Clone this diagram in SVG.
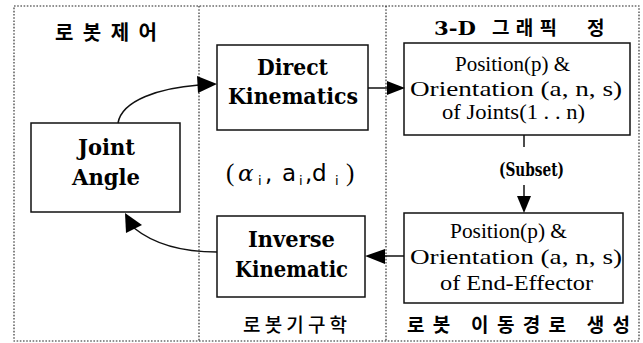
<svg xmlns="http://www.w3.org/2000/svg" width="643" height="343" viewBox="0 0 643 343">
<style>
.frame{fill:none;stroke:#222;stroke-width:1.1;stroke-dasharray:1.6 1.6}
.box{fill:#fff;stroke:#111;stroke-width:1.5}
.con{fill:none;stroke:#111;stroke-width:1.5}
.head{fill:#000}
.bk{font-family:"DejaVu Serif","Liberation Serif",serif;font-weight:bold;font-size:22px;fill:#000}
.bk2{font-family:"DejaVu Serif","Liberation Serif",serif;font-weight:bold;font-size:18px;fill:#000}
.bk3{font-family:"DejaVu Serif","Liberation Serif",serif;font-weight:bold;font-size:19px;fill:#000}
.rg{font-family:"Liberation Serif","DejaVu Serif",serif;font-size:22px;fill:#000}
.par{font-family:"Liberation Serif","DejaVu Serif",serif;font-size:25px;fill:#000}
.alpha{font-family:"DejaVu Serif","Liberation Serif",serif;font-style:italic;font-size:23px;fill:#000}
.kr{font-family:"Noto Sans CJK KR","Noto Sans",sans-serif;font-weight:bold;font-size:20px;fill:#000}
.kr3{font-family:"Noto Sans CJK KR","Noto Sans",sans-serif;font-weight:bold;font-size:19px;fill:#000}
.kr2{font-family:"Noto Sans CJK KR","Noto Sans",sans-serif;font-weight:500;font-size:19px;fill:#000}
.sub{font-family:"DejaVu Sans",sans-serif;font-size:13px;fill:#000}
.eq{font-family:"DejaVu Sans",sans-serif;font-size:23px;fill:#000}
</style>
<rect width="643" height="343" fill="#fff"/>
<g id="frame">
<rect class="frame" x="14" y="6" width="625" height="335"/>
<line class="frame" x1="199" y1="6" x2="199" y2="341"/>
<line class="frame" x1="386" y1="6" x2="386" y2="341"/>
</g>
<g id="labels">
<text class="kr" x="55" y="40" textLength="102" lengthAdjust="spacing">로 봇 제 어</text>
<text class="bk3" x="434" y="35" textLength="42" lengthAdjust="spacingAndGlyphs">3-D</text>
<text class="kr3" x="492" y="35" textLength="65" lengthAdjust="spacing">그래픽</text>
<text class="kr3" x="587" y="35">정</text>
<text class="kr2" x="243" y="332" textLength="104" lengthAdjust="spacing">로봇기구학</text>
<text class="kr3" x="407" y="332" textLength="223" lengthAdjust="spacing">로봇 이동경로 생성</text>
</g>
<g id="joint-angle">
<rect class="box" x="31" y="123" width="149" height="89"/>
<text class="bk" x="78" y="155" textLength="57" lengthAdjust="spacingAndGlyphs">Joint</text>
<text class="bk" x="72" y="185" textLength="68" lengthAdjust="spacingAndGlyphs">Angle</text>
</g>
<g id="direct-kinematics">
<rect class="box" x="217" y="45" width="151" height="85"/>
<text class="bk" x="257" y="75" textLength="71" lengthAdjust="spacingAndGlyphs">Direct</text>
<text class="bk" x="228" y="104" textLength="130" lengthAdjust="spacingAndGlyphs">Kinematics</text>
</g>
<g id="inverse-kinematic">
<rect class="box" x="217" y="216" width="148" height="81"/>
<text class="bk" x="248" y="247" textLength="87" lengthAdjust="spacingAndGlyphs">Inverse</text>
<text class="bk" x="235" y="277" textLength="113" lengthAdjust="spacingAndGlyphs">Kinematic</text>
</g>
<g id="joints-pose">
<rect class="box" x="404" y="43" width="226" height="92"/>
<text class="rg" x="455" y="71" textLength="115" lengthAdjust="spacingAndGlyphs">Position(p) &amp;</text>
<text class="rg" x="410" y="96" textLength="212" lengthAdjust="spacingAndGlyphs">Orientation (a, n, s)</text>
<text class="rg" x="442" y="119" textLength="143" lengthAdjust="spacingAndGlyphs">of Joints(1 . . n)</text>
</g>
<g id="end-effector-pose">
<rect class="box" x="404" y="213" width="219" height="90"/>
<text class="rg" x="450" y="238" textLength="117" lengthAdjust="spacingAndGlyphs">Position(p) &amp;</text>
<text class="rg" x="410" y="264" textLength="212" lengthAdjust="spacingAndGlyphs">Orientation (a, n, s)</text>
<text class="rg" x="440" y="290" textLength="153" lengthAdjust="spacingAndGlyphs">of End-Effector</text>
</g>
<g id="dh-params">
<text class="par" x="226" y="181">(</text>
<text class="alpha" x="238" y="181">α</text>
<text class="sub" x="258" y="185">i</text>
<text class="eq" x="265" y="181">,</text>
<text class="eq" x="282" y="181">a</text>
<text class="sub" x="299" y="185">i</text>
<text class="eq" x="305" y="181">,</text>
<text class="eq" x="312" y="181">d</text>
<text class="sub" x="335" y="185">i</text>
<text class="par" x="346" y="181">)</text>
</g>
<g id="connectors">
<path class="con" d="M118,123 C122,100 160,88 199,85"/>
<polygon class="head" points="217,84 197,76 198,93"/>
<line class="con" x1="368" y1="88" x2="389" y2="88"/>
<polygon class="head" points="405,88 387,81 387,95"/>
<line class="con" x1="524" y1="135" x2="524" y2="147"/>
<text class="bk2" x="499" y="176" textLength="65" lengthAdjust="spacingAndGlyphs">(Subset)</text>
<line class="con" x1="524" y1="185" x2="524" y2="198"/>
<polygon class="head" points="524,213 517,196 531,196"/>
<line class="con" x1="404" y1="256" x2="383" y2="256"/>
<polygon class="head" points="365,256 385,249 385,264"/>
<path class="con" d="M217,252 C185,252 155,245 134,228"/>
<polygon class="head" points="125,213 126,233 142,225"/>
</g>
</svg>
